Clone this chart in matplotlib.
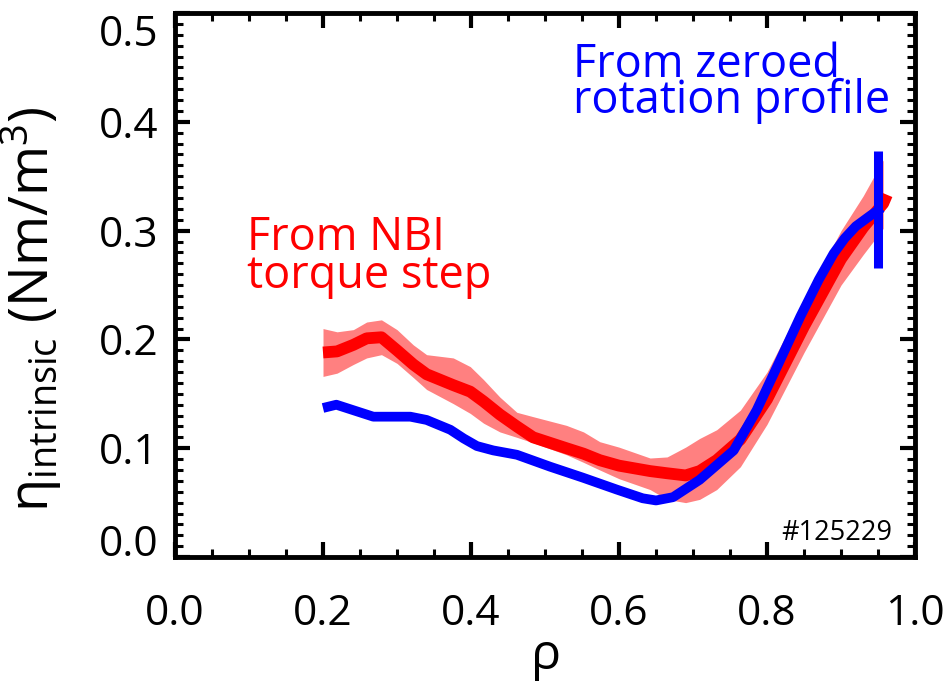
import matplotlib
matplotlib.use('Agg')
import matplotlib.pyplot as plt
from matplotlib.ticker import MultipleLocator
from matplotlib.transforms import ScaledTranslation

plt.rcParams['font.family'] = ['Open Sans', 'DejaVu Sans']
plt.rcParams['mathtext.fontset'] = 'custom'
plt.rcParams['mathtext.rm'] = 'Open Sans'
plt.rcParams['mathtext.it'] = 'Open Sans'

# NBI torque step: centre curve and uncertainty band
rho_nbi = [0.200, 0.219, 0.241, 0.259, 0.279, 0.300, 0.322, 0.340, 0.376, 0.399,
           0.417, 0.439, 0.462, 0.484, 0.529, 0.552, 0.574, 0.600, 0.642, 0.665,
           0.690, 0.709, 0.732, 0.764, 0.800, 0.850, 0.900, 0.930, 0.957]
eta_nbi = [0.188, 0.189, 0.195, 0.201, 0.202, 0.190, 0.177, 0.168, 0.158, 0.152,
           0.143, 0.131, 0.120, 0.110, 0.100, 0.095, 0.089, 0.084, 0.079, 0.077,
           0.075, 0.079, 0.089, 0.108, 0.145, 0.212, 0.274, 0.303, 0.325]
eta_hi = [0.210, 0.207, 0.209, 0.216, 0.218, 0.209, 0.195, 0.186, 0.183, 0.175,
          0.163, 0.147, 0.133, 0.129, 0.121, 0.115, 0.106, 0.101, 0.091, 0.092,
          0.101, 0.109, 0.117, 0.135, 0.170, 0.236, 0.300, 0.332, 0.365]
eta_lo = [0.166, 0.169, 0.177, 0.183, 0.186, 0.178, 0.165, 0.154, 0.141, 0.132,
          0.123, 0.115, 0.110, 0.105, 0.094, 0.087, 0.080, 0.072, 0.062, 0.053,
          0.050, 0.053, 0.062, 0.083, 0.122, 0.188, 0.250, 0.278, 0.302]
rho_tip = 0.962
eta_tip = 0.333

# zeroed rotation profile
rho_zero = [0.200, 0.218, 0.268, 0.318, 0.340, 0.372, 0.390, 0.408, 0.430, 0.462,
            0.507, 0.551, 0.597, 0.632, 0.650, 0.673, 0.709, 0.755, 0.786, 0.815,
            0.845, 0.870, 0.890, 0.905, 0.920, 0.940, 0.955]
eta_zero = [0.137, 0.140, 0.129, 0.129, 0.126, 0.117, 0.109, 0.102, 0.098, 0.094,
            0.083, 0.073, 0.062, 0.054, 0.052, 0.055, 0.071, 0.098, 0.135, 0.177,
            0.221, 0.255, 0.279, 0.293, 0.304, 0.314, 0.321]
err_rho = 0.95
err_mid = 0.3195
err_half = 0.0535

fig = plt.figure(figsize=(9.49, 6.86), dpi=100)
ax = fig.add_axes([0.1844, 0.188, 0.7798, 0.793])

ax.fill_between(rho_nbi, eta_lo, eta_hi, color='#ff8080', lw=0)
ax.plot(rho_nbi + [rho_tip], eta_nbi + [eta_tip], color='#ff0000', lw=8.5,
        solid_capstyle='butt', solid_joinstyle='round')
ax.plot(rho_zero, eta_zero, color='#0000ff', lw=7, solid_capstyle='butt',
        solid_joinstyle='round')
ax.plot([err_rho, err_rho], [err_mid - err_half, err_mid + err_half],
        color='#0000ff', lw=6.5, solid_capstyle='butt')

ax.text(0.097, 0.2824, 'From NBI', color='#ff0000', fontsize=32.5)
ax.text(0.097, 0.2475, 'torque step', color='#ff0000', fontsize=32.5)
ax.text(0.538, 0.4416, 'From zeroed', color='#0000ff', fontsize=32.5)
ax.text(0.538, 0.4085, 'rotation profile', color='#0000ff', fontsize=32.5)
ax.text(0.969, 0.0156, '#125229', color='black', fontsize=19.5, ha='right')

ax.set_xlim(0, 1.0)
ax.set_ylim(0, 0.5)
ax.xaxis.set_major_locator(MultipleLocator(0.2))
ax.xaxis.set_minor_locator(MultipleLocator(0.05))
ax.yaxis.set_major_locator(MultipleLocator(0.1))
ax.yaxis.set_minor_locator(MultipleLocator(0.01))
ax.xaxis.set_major_formatter(plt.FormatStrFormatter('%.1f'))
ax.yaxis.set_major_formatter(plt.FormatStrFormatter('%.1f'))

for s in ax.spines.values():
    s.set_linewidth(3.5)
ax.tick_params(which='both', direction='in', top=True, right=True, labelsize=30.5)
ax.tick_params(which='major', length=11, width=3)
ax.tick_params(which='minor', length=6, width=2.2)
ax.tick_params(axis='x', which='major', pad=26)
ax.tick_params(axis='y', which='major', pad=12)

ax.set_xlabel(r'$\mathrm{\rho}$', fontsize=36)
ax.set_ylabel(r'$\mathrm{\eta_{intrinsic}}$ (Nm/m$^{3}$)', fontsize=39)
ax.yaxis.set_label_coords(-0.15, 0.455)
ax.xaxis.set_label_coords(0.5, -0.14)

# end labels on the y axis sit a little inside the frame
fig.canvas.draw()
for t in ax.yaxis.get_major_ticks():
    v = t.get_loc()
    if abs(v) < 1e-6:
        t.label1.set_transform(t.label1.get_transform()
                               + ScaledTranslation(0, 12 / 72, fig.dpi_scale_trans))
    elif abs(v - 0.5) < 1e-6:
        t.label1.set_transform(t.label1.get_transform()
                               + ScaledTranslation(0, -12 / 72, fig.dpi_scale_trans))

plt.savefig('out.png', dpi=100)
